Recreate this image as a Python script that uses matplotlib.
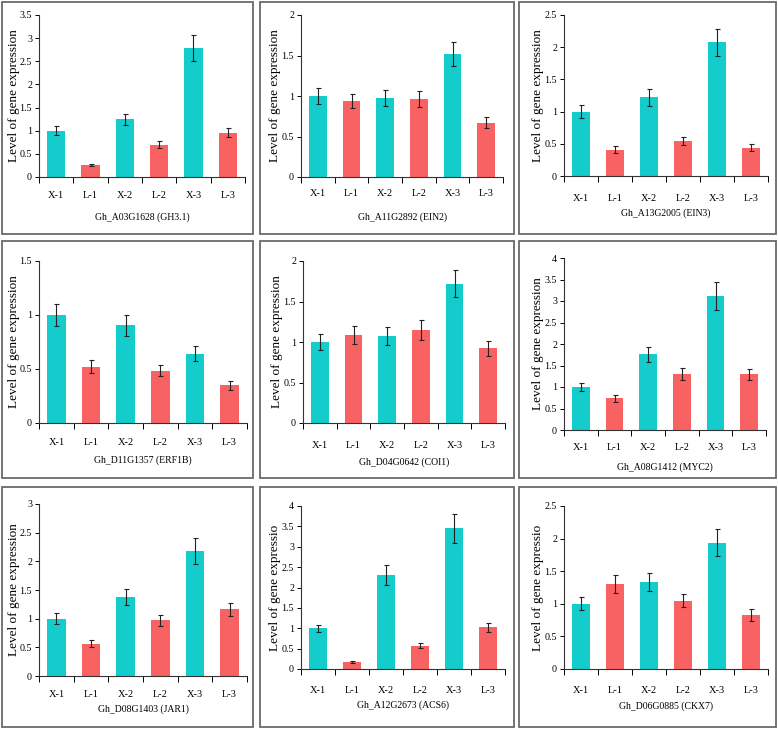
import matplotlib
matplotlib.use('Agg')
import matplotlib.pyplot as plt
from matplotlib.patches import Rectangle

plt.rcParams['font.family'] = ['Liberation Serif', 'DejaVu Serif']

W, H = 778, 730

samples = ['X-1', 'L-1', 'X-2', 'L-2', 'X-3', 'L-3']
cyan = '#14CCCC'
red = '#F96262'
bar_colors = [cyan, red, cyan, red, cyan, red]

genes = ['Gh_A03G1628 (GH3.1)', 'Gh_A11G2892 (EIN2)', 'Gh_A13G2005 (EIN3)',
         'Gh_D11G1357 (ERF1B)', 'Gh_D04G0642 (COI1)', 'Gh_A08G1412 (MYC2)',
         'Gh_D08G1403 (JAR1)', 'Gh_A12G2673 (ACS6)', 'Gh_D06G0885 (CKX7)']

gh31 = [1.00, 0.26, 1.25, 0.70, 2.78, 0.96]
gh31_err = [0.10, 0.02, 0.12, 0.07, 0.28, 0.10]
ein2 = [1.00, 0.94, 0.975, 0.965, 1.515, 0.67]
ein2_err = [0.10, 0.09, 0.10, 0.10, 0.15, 0.07]
ein3 = [1.00, 0.41, 1.22, 0.54, 2.08, 0.44]
ein3_err = [0.10, 0.05, 0.13, 0.06, 0.21, 0.05]
erf1b = [1.00, 0.52, 0.905, 0.485, 0.64, 0.35]
erf1b_err = [0.10, 0.06, 0.095, 0.05, 0.07, 0.04]
coi1 = [1.00, 1.09, 1.075, 1.15, 1.72, 0.92]
coi1_err = [0.10, 0.11, 0.11, 0.12, 0.17, 0.09]
myc2 = [1.00, 0.74, 1.76, 1.30, 3.12, 1.30]
myc2_err = [0.10, 0.08, 0.18, 0.14, 0.32, 0.13]
jar1 = [1.00, 0.56, 1.38, 0.97, 2.18, 1.16]
jar1_err = [0.10, 0.06, 0.14, 0.10, 0.22, 0.12]
acs6 = [1.00, 0.165, 2.30, 0.575, 3.45, 1.02]
acs6_err = [0.09, 0.02, 0.24, 0.06, 0.35, 0.11]
ckx7 = [1.00, 1.30, 1.34, 1.05, 1.94, 0.83]
ckx7_err = [0.10, 0.14, 0.14, 0.10, 0.20, 0.09]

values = [gh31, ein2, ein3, erf1b, coi1, myc2, jar1, acs6, ckx7]
errors = [gh31_err, ein2_err, ein3_err, erf1b_err, coi1_err, myc2_err,
          jar1_err, acs6_err, ckx7_err]
ymaxes = [3.5, 2, 2.5, 1.5, 2, 4, 3, 4, 2.5]
ylabels = ['Level of gene expression'] * 7 + ['Level of gene expressio'] * 2

# axes boxes in pixels: left, right, top, bottom
axes_px = [(39, 245, 15, 177), (301, 503, 15, 177), (564, 768, 15, 176),
           (39, 247, 261, 423), (303, 505, 261, 423), (564, 766, 258, 430),
           (39, 247, 504, 676), (301, 505, 506, 669), (564, 768, 506, 669)]
# panel frames in pixels: left, right, top, bottom
frames_px = [(2, 253, 2, 234), (260, 514, 2, 234), (519, 776, 2, 234),
             (2, 253, 241, 478), (260, 514, 241, 478), (519, 776, 241, 478),
             (2, 253, 487, 727), (260, 514, 487, 727), (519, 776, 487, 727)]
# text placement in pixels
ylabel_x = [20, 281, 544, 20, 283, 544, 20, 281, 544]
xtick_y = [193, 192, 195, 440, 442, 445, 692, 687, 687]
title_y = [217, 217, 213, 460, 462, 467, 709, 705, 706]

fig = plt.figure(figsize=(W / 100, H / 100), dpi=100)

for (l, r, t, b) in frames_px:
    fig.patches.append(Rectangle((l / W, 1 - b / H), (r - l) / W, (b - t) / H,
                                 transform=fig.transFigure, fill=False,
                                 edgecolor='#6a6a6a', linewidth=1.3))

x = list(range(len(samples)))
for i in range(9):
    l, r, t, b = axes_px[i]
    ax = fig.add_axes([l / W, 1 - b / H, (r - l) / W, (b - t) / H])
    ax.bar(x, values[i], width=0.53, color=bar_colors, zorder=2)
    ax.errorbar(x, values[i], yerr=errors[i], fmt='none', ecolor='#222222',
                elinewidth=0.8, capsize=1.8, capthick=0.8, zorder=3)
    ax.set_xlim(-0.5, 5.5)
    ax.set_ylim(0, ymaxes[i])
    n = int(ymaxes[i] / 0.5) + 1
    ax.set_yticks([k * 0.5 for k in range(n)])
    ax.set_yticklabels(['%g' % (k * 0.5) for k in range(n)])
    ax.set_xticks([k + 0.5 for k in range(-1, 6)])
    ax.set_xticklabels([])
    ax.set_xticks(x, minor=True)
    ax.set_xticklabels(samples, minor=True)
    ax.tick_params(axis='x', which='major', direction='out', length=4, width=0.7)
    ax.tick_params(axis='x', which='minor', length=0,
                   pad=xtick_y[i] - b - 6, labelsize=7.5)
    ax.tick_params(axis='y', direction='out', length=3, width=0.7,
                   labelsize=7.2, pad=2)
    for s in ['top', 'right']:
        ax.spines[s].set_visible(False)
    for s in ['left', 'bottom']:
        ax.spines[s].set_linewidth(0.8)
        ax.spines[s].set_color('#333333')
    ax.set_xlabel(genes[i], fontsize=7, va='center')
    ax.xaxis.set_label_coords(0.5, (b - title_y[i]) / (b - t))
    ax.set_ylabel(ylabels[i], fontsize=9.5)
    ax.yaxis.set_label_coords((ylabel_x[i] - l) / (r - l), 0.5)
    ax.patch.set_alpha(0)

plt.savefig('out.png', dpi=100)
